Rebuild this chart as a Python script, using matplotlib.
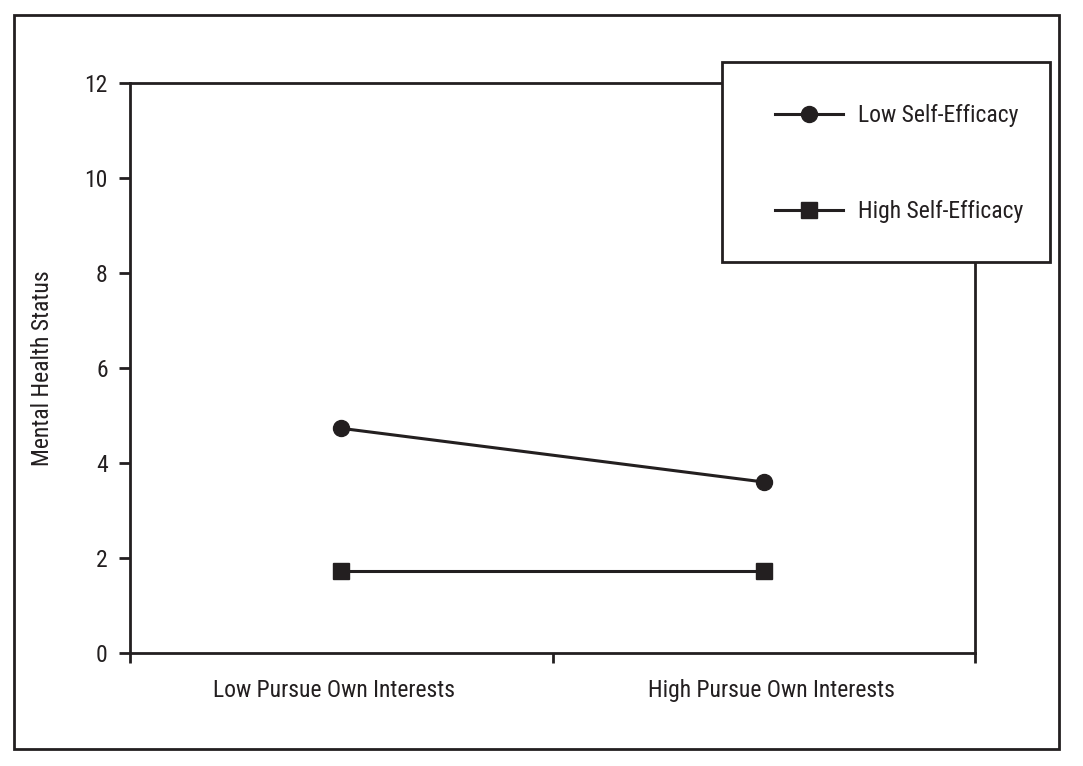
import matplotlib
matplotlib.use("Agg")
import matplotlib.pyplot as plt
from matplotlib.patches import Rectangle
from matplotlib.transforms import ScaledTranslation

plt.rcParams['font.family'] = ['Liberation Sans Narrow', 'Roboto Condensed',
                               'Liberation Sans', 'DejaVu Sans']

INK = "#231f20"

categories = ["Low Pursue Own Interests", "High Pursue Own Interests"]
cat_pos = [0.5, 1.5]
low_se = [4.73, 3.6]
high_se = [1.72, 1.72]
series_names = ["Low Self-Efficacy", "High Self-Efficacy"]
yticks = [0, 2, 4, 6, 8, 10, 12]

W, H = 1083, 766
fig = plt.figure(figsize=(W / 100, H / 100), dpi=100)

# outer frame round the whole figure
fig.patches.append(Rectangle((14 / W, 1 - 749 / H), 1045 / W, 734 / H,
                             transform=fig.transFigure, fill=False,
                             edgecolor=INK, linewidth=2, zorder=0))

ax = fig.add_axes([130 / W, 1 - 653 / H, 845 / W, 570 / H])

l1, = ax.plot(cat_pos, low_se, color=INK, lw=2.2, marker="o", ms=11.5,
              clip_on=False)
l2, = ax.plot(cat_pos, high_se, color=INK, lw=2.2, marker="s", ms=11,
              clip_on=False)

ax.set_xlim(0, 2)
ax.set_ylim(0, 12)
ax.set_yticks(yticks)
ax.set_xticks([0, 1, 2])
ax.set_xticklabels([])
ax.set_xticks(cat_pos, minor=True)
ax.set_xticklabels(categories, minor=True)

for s in ax.spines.values():
    s.set_color(INK)
    s.set_linewidth(2)

ax.tick_params(axis="y", direction="out", length=8, width=2, color=INK,
               labelsize=17, pad=8, labelcolor=INK)
ax.tick_params(axis="x", which="major", direction="out", length=7.5,
               width=2, color=INK)
ax.tick_params(axis="x", which="minor", length=0, labelsize=17, pad=19,
               labelcolor=INK)

# the category labels sit a little off-centre in the original
for lab, dx in zip(ax.get_xticklabels(minor=True), [-7, 8]):
    lab.set_transform(lab.get_transform()
                      + ScaledTranslation(dx / 100, 0, fig.dpi_scale_trans))

ax.set_ylabel("Mental Health Status", fontsize=17, color=INK, labelpad=22)

# legend box sits over the top right corner of the axes
fig.patches.append(Rectangle((722 / W, 1 - 262 / H), 328 / W, 200 / H,
                             transform=fig.transFigure, facecolor="white",
                             edgecolor=INK, linewidth=2, zorder=3))
fig.legend([l1, l2], series_names, loc="upper left",
           bbox_to_anchor=(775 / W, 1 - 104 / H), frameon=False,
           borderpad=0, borderaxespad=0, handlelength=2.88,
           handletextpad=0.64, labelspacing=3.1, fontsize=17,
           labelcolor=INK).set_zorder(5)

fig.savefig("out.png", dpi=100)
